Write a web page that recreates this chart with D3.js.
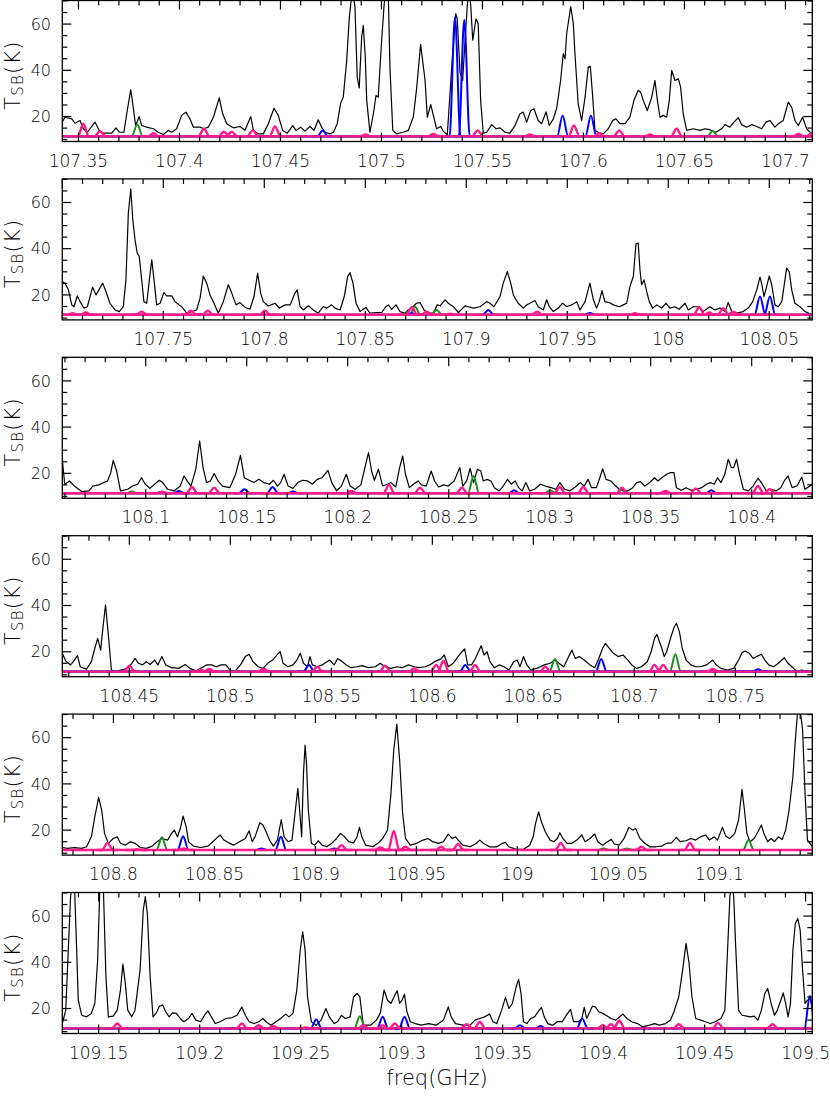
<!DOCTYPE html>
<html><head><meta charset="utf-8">
<script src="https://cdn.jsdelivr.net/npm/d3@7"></script>
<style>body{margin:0;background:#fff}svg{display:block}</style>
</head><body>
<svg id="c" width="830" height="1099"></svg>
<script>
// ---------------- DATA ----------------
const panelStart = [107.342, 107.700, 108.0587, 108.4168, 108.7747, 109.132];
const panelSpan = 0.3713;
const yDomain = [9.2, 70.2];
const yTickLabels = [20, 40, 60];
const xTickLabels = [
  [107.35,107.4,107.45,107.5,107.55,107.6,107.65,107.7],
  [107.75,107.8,107.85,107.9,107.95,108,108.05],
  [108.1,108.15,108.2,108.25,108.3,108.35,108.4],
  [108.45,108.5,108.55,108.6,108.65,108.7,108.75],
  [108.8,108.85,108.9,108.95,109,109.05,109.1],
  [109.15,109.2,109.25,109.3,109.35,109.4,109.45,109.5]
];
const modelBaseline = 11.4;

const spec1 = [[107.342,17.6],[107.3433,19.7],[107.3467,19.0],[107.3483,17.1],[107.3508,18.3],[107.3524,14.7],[107.3544,13.2],[107.3582,17.6],[107.3603,14.0],[107.3623,12.8],[107.3665,12.8],[107.3686,15.1],[107.3702,13.2],[107.3725,13.2],[107.3739,21.2],[107.3759,31.6],[107.3771,24.0],[107.3783,16.1],[107.3801,20.0],[107.3813,16.1],[107.3838,15.4],[107.3871,14.7],[107.3895,13.2],[107.392,12.2],[107.3945,14.0],[107.3962,13.2],[107.3986,14.7],[107.4011,20.5],[107.4032,21.9],[107.4052,19.0],[107.4069,15.4],[107.4102,15.4],[107.4121,14.7],[107.4143,15.4],[107.4168,19.7],[107.4197,28.1],[107.4214,21.2],[107.4234,16.9],[107.4267,15.1],[107.43,15.7],[107.4324,14.0],[107.4353,20.0],[107.4366,14.0],[107.439,12.5],[107.4415,12.5],[107.444,16.9],[107.4468,23.6],[107.4489,20.5],[107.4511,14.0],[107.4534,12.8],[107.4561,16.1],[107.4577,14.0],[107.46,15.4],[107.4621,13.7],[107.4646,15.7],[107.4666,14.0],[107.4687,18.6],[107.4704,15.4],[107.472,13.2],[107.4745,12.5],[107.4762,13.2],[107.4781,16.9],[107.4798,25.8],[107.4811,28.4],[107.4828,44.3],[107.4841,63.0],[107.4856,75],[107.4869,67.3],[107.488,37.0],[107.489,32.4],[107.4902,54.4],[107.491,59.4],[107.492,45.7],[107.4927,27.0],[107.4943,13.2],[107.496,21.2],[107.4973,29.1],[107.4984,28.4],[107.5001,53.0],[107.5013,68],[107.5022,76],[107.5034,72],[107.5042,41.4],[107.5056,14.0],[107.5075,12.5],[107.5108,13.2],[107.5133,14.0],[107.5158,19.9],[107.5174,32.0],[107.5194,51.2],[107.5216,35.6],[107.5227,19.7],[107.5244,25.2],[107.5257,20.5],[107.5273,14.7],[107.5293,15.7],[107.5306,13.7],[107.5326,12.1],[107.5348,41.4],[107.5368,64.5],[107.5375,62.3],[107.5389,39.2],[107.5402,35.6],[107.5414,53.0],[107.5425,68],[107.5433,75],[107.5442,68],[107.5452,53.0],[107.5468,62.3],[107.5479,60.1],[107.5491,27.0],[107.5504,12.8],[107.5521,13.2],[107.5546,16.5],[107.5567,14.7],[107.5587,15.1],[107.5612,13.2],[107.5636,12.8],[107.5661,16.1],[107.5686,21.2],[107.5702,21.9],[107.5719,17.6],[107.5739,22.6],[107.5755,23.4],[107.5776,18.3],[107.5793,16.9],[107.5815,22.0],[107.5831,16.1],[107.5851,19.0],[107.5868,23.8],[107.5887,35.6],[107.59,47.2],[107.5909,45.0],[107.5917,55.8],[107.5937,67.6],[107.595,60.1],[107.5958,47.2],[107.5974,25.5],[107.5991,18.3],[107.6008,28.4],[107.6024,41.4],[107.6034,41.7],[107.6046,28.4],[107.6057,14.0],[107.6073,13.2],[107.6098,12.5],[107.6123,14.7],[107.6145,18.3],[107.6161,19.0],[107.6181,16.9],[107.6206,16.9],[107.623,19.7],[107.625,27.0],[107.6271,31.3],[107.6283,30.6],[107.6296,27.0],[107.6316,22.6],[107.6338,28.4],[107.6354,35.6],[107.6366,27.0],[107.6379,19.7],[107.6395,20.5],[107.6412,19.7],[107.6425,27.0],[107.6437,40.0],[107.6453,35.6],[107.647,36.3],[107.6481,32.7],[107.6494,21.2],[107.6511,14.0],[107.6544,14.7],[107.6577,14.0],[107.6602,14.7],[107.6626,14.3],[107.6656,13.2],[107.6684,14.7],[107.6701,16.5],[107.6725,15.4],[107.6745,17.6],[107.6767,19.5],[107.6783,16.5],[107.6808,15.4],[107.6833,16.5],[107.6858,15.7],[107.6882,14.7],[107.6904,17.6],[107.6923,18.3],[107.6948,15.4],[107.6965,16.9],[107.6989,18.3],[107.7014,26.2],[107.7031,24.0],[107.7047,18.3],[107.7064,16.1],[107.7085,19.7],[107.7105,14.7],[107.713,12.5]];

const spec2 = [[107.7,25.8],[107.7013,25.1],[107.703,22.2],[107.7047,15.7],[107.7058,14.9],[107.7074,19.6],[107.7088,17.1],[107.7107,14.3],[107.7124,14.9],[107.715,23.4],[107.7167,20.0],[107.72,25.1],[107.7216,21.5],[107.7236,16.4],[107.7261,13.5],[107.7282,12.8],[107.7302,14.9],[107.7315,26.5],[107.7327,55.4],[107.7339,65.9],[107.7349,52.5],[107.736,43.8],[107.7371,38.1],[107.7381,36.6],[107.7393,26.5],[107.7404,17.1],[107.7418,16.4],[107.7431,26.5],[107.7443,35.2],[107.7454,26.5],[107.7467,15.7],[107.7484,16.4],[107.7503,21.0],[107.7517,19.6],[107.7542,19.6],[107.7558,17.1],[107.7578,15.7],[107.7591,14.9],[107.7616,12.1],[107.7641,12.8],[107.7665,13.5],[107.7682,18.6],[107.7698,28.2],[107.7715,25.1],[107.7731,20.0],[107.7751,16.4],[107.7772,12.1],[107.7797,17.1],[107.7822,24.4],[107.7839,20.8],[107.786,15.7],[107.788,16.7],[107.7904,14.7],[107.7929,13.8],[107.7949,19.3],[107.7967,29.4],[107.7982,20.8],[107.7995,17.1],[107.802,15.2],[107.8053,16.4],[107.8074,14.3],[107.8103,15.7],[107.8128,15.7],[107.8152,20.8],[107.8163,22.2],[107.8177,15.0],[107.8193,13.5],[107.8218,15.3],[107.8243,13.5],[107.8267,12.1],[107.8292,15.0],[107.8309,14.3],[107.8334,15.7],[107.835,14.3],[107.8375,13.5],[107.8396,19.3],[107.8413,28.0],[107.8424,29.7],[107.8439,25.1],[107.8454,16.4],[107.8474,12.8],[107.8503,14.6],[107.8523,12.1],[107.8556,12.4],[107.8581,12.4],[107.8602,14.9],[107.8614,15.7],[107.8631,13.8],[107.8652,15.7],[107.8672,12.8],[107.8697,12.1],[107.8713,13.5],[107.8735,14.9],[107.8754,16.4],[107.8771,16.7],[107.8791,13.5],[107.8812,12.1],[107.8837,12.1],[107.8856,15.7],[107.887,15.3],[107.8895,17.9],[107.8911,16.4],[107.8936,14.9],[107.8961,12.4],[107.8994,15.3],[107.901,14.9],[107.9035,14.3],[107.9068,14.9],[107.9101,17.1],[107.9117,16.4],[107.9137,14.9],[107.9167,19.3],[107.9183,25.1],[107.9203,30.1],[107.922,25.1],[107.9233,20.0],[107.9257,16.4],[107.9282,14.3],[107.9299,15.7],[107.9315,16.4],[107.934,17.6],[107.9356,14.9],[107.9381,13.5],[107.9398,17.9],[107.9411,14.9],[107.9431,12.8],[107.9455,14.3],[107.9477,16.4],[107.9497,15.0],[107.9523,15.7],[107.9547,17.1],[107.9563,13.5],[107.9588,17.1],[107.9612,25.1],[107.9629,18.0],[107.9645,14.3],[107.9658,17.1],[107.9672,21.9],[107.9686,17.1],[107.9708,16.7],[107.9728,15.7],[107.9757,14.9],[107.9777,15.7],[107.9794,16.4],[107.981,23.6],[107.9827,28.0],[107.984,42.1],[107.9851,42.4],[107.986,30.7],[107.9868,24.4],[107.988,26.5],[107.9893,21.5],[107.9906,17.1],[107.9923,14.3],[107.9943,15.7],[107.9967,14.3],[107.9989,16.4],[108.0008,14.3],[108.0033,14.9],[108.0054,13.8],[108.0083,16.4],[108.0099,13.5],[108.0124,14.9],[108.0153,14.9],[108.0173,12.8],[108.0206,14.9],[108.0231,13.5],[108.0256,14.3],[108.0281,12.8],[108.0297,16.7],[108.0314,12.8],[108.0339,12.1],[108.0371,12.8],[108.0396,14.3],[108.0418,17.1],[108.0438,22.2],[108.0454,27.7],[108.0462,25.0],[108.0474,19.3],[108.0487,23.6],[108.05,28.2],[108.0512,24.4],[108.0528,15.7],[108.0545,14.9],[108.0562,17.1],[108.0586,31.6],[108.0599,30.0],[108.0611,22.2],[108.0627,16.4],[108.0652,14.9],[108.0677,12.8],[108.0701,11.8],[108.0713,11.5]];

const spec3 = [[108.0587,26.1],[108.0599,15.3],[108.0623,16.7],[108.0647,14.5],[108.0683,12.1],[108.0719,12.4],[108.0738,14.5],[108.0767,15.0],[108.0791,16.0],[108.0811,16.7],[108.0827,20.3],[108.0839,25.6],[108.0856,21.0],[108.0875,12.4],[108.0911,13.1],[108.0935,14.5],[108.096,15.3],[108.0979,18.1],[108.0996,15.5],[108.102,13.5],[108.1044,15.3],[108.1068,17.0],[108.1084,16.0],[108.1109,13.1],[108.114,12.4],[108.1171,14.5],[108.119,18.9],[108.1205,16.7],[108.1224,14.5],[108.1248,21.8],[108.1267,34.0],[108.1284,22.5],[108.1301,16.0],[108.132,16.7],[108.1339,19.9],[108.1356,17.0],[108.138,14.5],[108.1416,13.8],[108.1445,19.6],[108.1469,27.8],[108.1488,18.1],[108.1512,17.0],[108.1536,16.0],[108.156,17.4],[108.1584,16.0],[108.1613,15.3],[108.1632,17.0],[108.1652,14.5],[108.1668,16.0],[108.1685,19.6],[108.1705,14.5],[108.1729,13.5],[108.1753,16.0],[108.1777,17.0],[108.1801,16.7],[108.1825,15.3],[108.1849,17.4],[108.1873,18.1],[108.1902,21.3],[108.1921,16.0],[108.1945,12.4],[108.1969,14.5],[108.1993,19.6],[108.2012,14.5],[108.2036,13.1],[108.2065,15.0],[108.2089,23.9],[108.2103,29.0],[108.2118,21.0],[108.2132,17.0],[108.2152,21.8],[108.2173,14.5],[108.2197,15.3],[108.2214,16.0],[108.2238,14.1],[108.2257,22.5],[108.2272,27.5],[108.2286,19.6],[108.2305,13.8],[108.2325,15.3],[108.2349,16.7],[108.2365,15.0],[108.2389,14.5],[108.2413,21.0],[108.243,16.7],[108.245,14.1],[108.2474,15.0],[108.2498,14.5],[108.2527,16.7],[108.2555,22.5],[108.257,14.5],[108.2589,16.7],[108.2606,22.2],[108.2623,16.0],[108.2642,21.8],[108.2659,21.0],[108.2671,16.7],[108.269,17.4],[108.2709,16.7],[108.2726,13.8],[108.275,12.4],[108.2767,14.1],[108.2791,17.4],[108.281,15.3],[108.2829,16.7],[108.2846,13.8],[108.2863,12.4],[108.2882,16.0],[108.2901,12.4],[108.2925,13.1],[108.2954,15.3],[108.2978,14.5],[108.3007,13.8],[108.3031,13.1],[108.305,16.0],[108.3074,13.1],[108.3098,12.4],[108.3127,14.1],[108.3151,16.0],[108.3171,14.5],[108.319,17.4],[108.3207,13.8],[108.3231,13.8],[108.3248,18.1],[108.3262,22.0],[108.3279,17.4],[108.3303,16.7],[108.3327,14.5],[108.3344,13.1],[108.3363,12.4],[108.3387,12.4],[108.3411,13.8],[108.343,16.0],[108.3449,16.4],[108.3471,14.5],[108.3495,16.0],[108.3519,18.1],[108.3536,16.7],[108.3555,18.1],[108.3579,19.6],[108.3598,20.3],[108.3615,20.3],[108.3627,13.8],[108.3651,12.7],[108.3675,13.8],[108.3699,12.7],[108.3728,13.1],[108.3752,13.8],[108.3776,15.3],[108.3795,16.0],[108.3815,15.3],[108.3831,18.1],[108.3848,16.0],[108.3867,19.6],[108.3884,26.1],[108.3899,22.5],[108.3911,22.5],[108.3925,26.1],[108.394,19.6],[108.3959,13.1],[108.3983,12.4],[108.4007,14.5],[108.4031,17.9],[108.4048,16.0],[108.4072,12.4],[108.4096,13.1],[108.412,12.4],[108.4144,13.8],[108.4161,16.7],[108.418,18.9],[108.42,13.8],[108.4224,14.5],[108.4248,18.4],[108.4264,13.1],[108.4288,14.5],[108.43,15.3]];

const spec4 = [[108.4168,19.3],[108.4185,16.0],[108.4209,14.3],[108.4228,16.4],[108.4243,18.3],[108.4257,13.5],[108.4288,12.5],[108.4312,15.7],[108.4329,21.5],[108.4343,25.8],[108.4358,20.7],[108.4367,28.7],[108.4382,40.2],[108.4396,27.2],[108.4411,12.1],[108.4432,11.4],[108.4456,12.1],[108.4492,12.8],[108.4512,15.0],[108.4528,17.1],[108.4545,15.0],[108.4565,14.3],[108.4584,15.7],[108.4603,14.5],[108.4625,16.4],[108.4641,14.3],[108.4661,17.9],[108.468,14.3],[108.4709,13.1],[108.4745,12.8],[108.4776,14.5],[108.48,12.8],[108.4829,11.7],[108.4858,13.1],[108.4882,14.3],[108.4906,14.3],[108.493,13.5],[108.4954,14.3],[108.4978,14.3],[108.4997,12.1],[108.5021,11.4],[108.505,14.3],[108.5074,17.9],[108.5093,18.9],[108.5112,15.7],[108.5137,13.5],[108.5161,12.8],[108.5185,15.0],[108.5209,16.4],[108.5233,18.9],[108.5247,20.0],[108.5261,15.0],[108.5286,13.5],[108.531,14.3],[108.5329,16.4],[108.5346,19.3],[108.5362,15.0],[108.5382,13.5],[108.5394,17.9],[108.5406,14.3],[108.543,13.5],[108.5454,14.3],[108.5478,15.7],[108.5492,16.4],[108.5514,14.3],[108.5531,17.1],[108.555,16.0],[108.5574,14.3],[108.5598,13.1],[108.5627,13.5],[108.5651,14.0],[108.5682,13.1],[108.5718,13.5],[108.5742,15.0],[108.5766,13.5],[108.5795,12.8],[108.5826,13.5],[108.585,13.1],[108.5882,14.3],[108.591,13.5],[108.5934,13.1],[108.5963,13.5],[108.5987,14.3],[108.6011,15.7],[108.6043,16.9],[108.6059,18.6],[108.6079,13.5],[108.6103,15.0],[108.6127,17.9],[108.6146,20.0],[108.616,21.2],[108.6175,14.3],[108.6194,14.3],[108.6213,17.1],[108.6228,20.0],[108.6242,22.6],[108.6256,18.6],[108.6271,20.0],[108.6285,15.7],[108.6307,13.1],[108.6331,14.3],[108.6355,13.5],[108.6379,12.1],[108.6403,15.7],[108.642,16.4],[108.6434,13.5],[108.6451,17.9],[108.6468,14.3],[108.6487,12.1],[108.6516,12.8],[108.6535,13.5],[108.6554,14.3],[108.6583,15.0],[108.6607,16.4],[108.6627,15.0],[108.6651,13.5],[108.6675,17.9],[108.6691,20.7],[108.6708,17.1],[108.6727,17.9],[108.6752,16.4],[108.678,14.3],[108.6804,13.1],[108.6824,17.1],[108.6843,21.5],[108.6857,23.6],[108.6876,21.5],[108.6896,19.3],[108.692,17.9],[108.6944,18.6],[108.6968,16.4],[108.6987,14.3],[108.7011,12.8],[108.7035,13.5],[108.7064,15.7],[108.7083,20.0],[108.71,25.8],[108.7112,27.5],[108.7124,24.4],[108.7136,21.5],[108.7148,17.9],[108.716,20.0],[108.7179,25.8],[108.7196,30.4],[108.7208,32.3],[108.7223,28.7],[108.7237,21.5],[108.7256,16.4],[108.728,14.3],[108.7304,13.5],[108.7328,13.5],[108.7357,14.3],[108.7388,16.4],[108.7405,14.3],[108.7429,12.8],[108.7461,12.1],[108.7492,12.8],[108.7516,16.4],[108.7533,19.6],[108.7549,20.3],[108.7569,19.3],[108.7588,17.1],[108.7605,17.9],[108.7629,18.9],[108.7646,16.4],[108.7665,14.3],[108.7689,13.5],[108.7713,15.0],[108.7742,17.4],[108.7761,15.0],[108.7785,13.1],[108.7804,11.4],[108.7828,12.1],[108.7857,11.4],[108.7881,11.1]];

const spec5 = [[108.7747,12.5],[108.7771,12.1],[108.7807,12.4],[108.7843,12.1],[108.7867,12.8],[108.7891,17.1],[108.7908,25.8],[108.7927,34.2],[108.7942,28.7],[108.7956,18.6],[108.7975,14.3],[108.7999,16.4],[108.8019,17.1],[108.8035,14.3],[108.8059,13.5],[108.8083,15.0],[108.8107,14.3],[108.8132,12.5],[108.8163,12.1],[108.8192,13.1],[108.8216,15.0],[108.824,16.4],[108.8269,15.7],[108.8288,18.6],[108.8302,20.0],[108.8317,17.1],[108.8331,20.7],[108.8345,26.1],[108.836,21.5],[108.8372,15.0],[108.8396,13.1],[108.8432,12.5],[108.8468,13.1],[108.8492,15.0],[108.8509,16.4],[108.8528,17.9],[108.8547,15.7],[108.8571,14.5],[108.8595,13.5],[108.8624,15.0],[108.8653,16.4],[108.8672,19.7],[108.8687,15.0],[108.8701,17.1],[108.8725,23.2],[108.874,22.2],[108.8756,19.3],[108.8773,15.7],[108.8792,13.1],[108.8812,15.7],[108.8831,24.6],[108.8845,17.1],[108.8865,15.0],[108.8884,15.7],[108.8901,28.7],[108.8913,38.1],[108.8922,28.7],[108.8932,17.1],[108.8941,44.6],[108.8949,56.8],[108.8956,48.9],[108.8965,28.7],[108.898,14.3],[108.8997,13.5],[108.9014,15.4],[108.9033,13.5],[108.9057,12.8],[108.9081,14.3],[108.9105,16.4],[108.9124,18.6],[108.9141,17.4],[108.9165,15.0],[108.9189,14.5],[108.9206,17.1],[108.9218,21.2],[108.923,17.1],[108.9249,13.5],[108.9285,12.8],[108.9309,14.3],[108.9333,16.4],[108.9357,20.0],[108.9374,35.9],[108.9388,54.7],[108.9403,65.9],[108.9417,50.3],[108.9432,27.2],[108.9446,16.4],[108.947,13.5],[108.9501,14.3],[108.9533,15.7],[108.9557,16.4],[108.9581,15.0],[108.961,14.3],[108.9634,15.0],[108.9658,18.3],[108.9677,16.4],[108.9694,17.1],[108.971,15.4],[108.973,13.5],[108.9766,12.8],[108.9797,14.3],[108.9814,15.7],[108.9831,14.3],[108.9862,12.8],[108.9898,12.8],[108.9927,14.3],[108.9941,14.7],[108.9958,12.8],[108.9994,11.7],[109.003,11.7],[109.0061,13.5],[109.0078,17.1],[109.009,22.9],[109.0105,27.9],[109.0119,23.6],[109.0138,19.3],[109.0162,15.7],[109.0181,15.0],[109.0198,16.4],[109.021,18.9],[109.0225,16.4],[109.0246,14.3],[109.027,14.3],[109.0294,15.7],[109.0319,17.9],[109.0335,15.0],[109.0359,16.4],[109.0383,18.3],[109.0398,15.0],[109.0422,13.5],[109.0446,15.0],[109.0465,16.0],[109.048,14.0],[109.0504,13.5],[109.0528,16.4],[109.0552,21.2],[109.0571,20.0],[109.0585,20.7],[109.0607,16.4],[109.0631,14.3],[109.0655,12.8],[109.0686,12.8],[109.0715,13.1],[109.0739,14.3],[109.0763,14.5],[109.0787,16.9],[109.0806,15.0],[109.0835,15.4],[109.0859,16.4],[109.0883,15.7],[109.0907,17.1],[109.0931,17.9],[109.0951,15.7],[109.0975,17.1],[109.0991,15.7],[109.1015,21.2],[109.1032,17.4],[109.1052,16.4],[109.1076,18.6],[109.1095,24.4],[109.1112,37.6],[109.1124,28.7],[109.1136,18.6],[109.1152,15.0],[109.1172,16.4],[109.1191,19.3],[109.1208,22.2],[109.122,18.6],[109.1239,15.0],[109.1256,16.4],[109.1273,15.0],[109.1292,17.1],[109.1311,16.0],[109.1328,20.0],[109.1345,28.7],[109.1364,43.1],[109.1376,59.0],[109.1388,72],[109.14,72],[109.1412,63.3],[109.1424,35.9],[109.1436,15.7],[109.1455,13.5],[109.146,12.8]];

const spec6 = [[109.132,13.5],[109.1337,19.3],[109.1351,48.2],[109.1361,68.4],[109.1368,74],[109.138,74],[109.139,48.2],[109.1399,23.6],[109.1416,17.1],[109.144,16.4],[109.1464,17.9],[109.1481,22.2],[109.1495,41.0],[109.1505,70],[109.1515,75],[109.1524,70],[109.1536,33.7],[109.1548,16.4],[109.1572,16.7],[109.1592,19.3],[109.1608,28.0],[109.162,39.2],[109.1632,30.9],[109.1644,19.3],[109.1664,16.4],[109.168,19.3],[109.1705,36.6],[109.1721,62.6],[109.1731,68.4],[109.1741,61.1],[109.1755,33.7],[109.1769,16.4],[109.1784,17.9],[109.1801,21.0],[109.1817,21.5],[109.1832,18.6],[109.1849,16.4],[109.1866,18.1],[109.1885,17.9],[109.1904,15.7],[109.1921,14.3],[109.1945,15.7],[109.1962,17.9],[109.1981,15.0],[109.2005,14.3],[109.2024,17.1],[109.2041,19.0],[109.2058,16.4],[109.2077,13.5],[109.2101,14.3],[109.213,15.7],[109.2161,16.1],[109.2185,17.1],[109.2209,20.7],[109.2226,17.1],[109.2245,14.3],[109.2269,13.5],[109.2293,14.3],[109.2313,15.7],[109.2329,14.3],[109.2353,12.8],[109.2377,14.3],[109.2401,15.7],[109.2426,17.6],[109.2442,16.4],[109.2462,17.9],[109.2481,28.0],[109.2498,45.3],[109.251,53.2],[109.2522,45.3],[109.2534,25.1],[109.2553,14.3],[109.2577,12.8],[109.2601,15.0],[109.2625,20.0],[109.2642,16.4],[109.2666,13.5],[109.2683,14.3],[109.2702,17.1],[109.2721,15.7],[109.2745,16.4],[109.2762,25.1],[109.2779,26.5],[109.2793,25.1],[109.281,12.8],[109.2846,12.8],[109.2875,15.0],[109.2894,17.9],[109.2913,28.0],[109.293,23.6],[109.2947,22.2],[109.2966,25.8],[109.2978,27.7],[109.299,22.2],[109.3002,23.6],[109.3014,26.2],[109.3026,18.6],[109.3043,14.3],[109.3067,13.5],[109.3098,12.8],[109.3134,13.5],[109.3171,12.8],[109.3207,15.0],[109.3231,20.7],[109.3245,16.4],[109.3267,13.5],[109.3303,12.8],[109.3339,12.8],[109.3363,15.0],[109.3387,15.7],[109.3411,16.4],[109.3435,17.6],[109.3452,14.3],[109.3471,13.5],[109.3495,19.3],[109.3514,24.8],[109.3531,20.0],[109.3548,22.2],[109.3567,29.4],[109.3579,32.6],[109.3591,26.5],[109.3603,14.3],[109.362,13.5],[109.3639,15.7],[109.3658,16.4],[109.3675,18.6],[109.3692,20.5],[109.3706,16.4],[109.3723,13.5],[109.3747,12.8],[109.3771,14.3],[109.3795,14.3],[109.3819,17.6],[109.3836,19.6],[109.3851,14.3],[109.3875,14.3],[109.3892,15.7],[109.3904,20.5],[109.3916,15.7],[109.3928,17.9],[109.3944,21.0],[109.3959,20.7],[109.3976,18.6],[109.3995,17.9],[109.4012,17.1],[109.4036,15.7],[109.406,15.0],[109.4096,17.6],[109.4115,15.7],[109.4139,14.3],[109.4168,13.5],[109.4192,12.1],[109.4228,12.8],[109.4252,13.5],[109.4276,12.8],[109.4307,13.5],[109.4331,15.0],[109.4348,18.6],[109.4372,25.1],[109.4391,36.6],[109.4408,48.2],[109.4423,39.5],[109.4437,25.1],[109.4456,15.7],[109.448,15.0],[109.4504,14.3],[109.4528,13.5],[109.4552,14.3],[109.4581,15.7],[109.46,19.3],[109.4615,48.2],[109.4625,68.4],[109.4634,74],[109.4644,68.4],[109.4653,48.2],[109.4668,19.3],[109.4685,17.1],[109.4709,16.7],[109.4725,16.4],[109.4745,16.7],[109.4764,15.0],[109.4781,19.3],[109.4798,26.5],[109.4812,28.7],[109.4829,22.2],[109.4846,17.1],[109.486,19.3],[109.4877,23.6],[109.4889,26.8],[109.4901,22.2],[109.4913,16.4],[109.4925,22.2],[109.4937,45.3],[109.4949,56.8],[109.4961,59.0],[109.4973,53.9],[109.4985,36.6],[109.4997,22.2],[109.5009,23.6],[109.5021,24.3],[109.5033,20.7]];

// model line peaks: [centre frequency (GHz), peak T (K)]
const blue1 = [[107.4709,14.0],[107.5364,63.0],[107.541,61.8],[107.5897,20.5],[107.6037,20.5]];
const green1 = [[107.3791,16.7],[107.664,13.7]];
const magenta1 = [[107.3524,16.9],[107.3607,13.7],[107.3871,12.8],[107.4121,14.7],[107.422,13.4],[107.4259,13.4],[107.4363,14.0],[107.4473,15.7],[107.4922,12.2],[107.5257,12.5],[107.5476,14.0],[107.5735,12.2],[107.5953,16.1],[107.6078,12.8],[107.6177,14.0],[107.6329,12.2],[107.6461,14.7],[107.7064,12.5],[107.713,12.8]];
const blue2 = [[107.873,12.1],[107.9109,13.5],[107.9612,12.2],[108.0454,19.3],[108.0503,19.3]];
const green2 = [[107.8746,15.0],[107.8853,13.5]];
const magenta2 = [[107.7051,12.1],[107.7117,12.4],[107.7393,12.8],[107.7636,13.2],[107.772,13.2],[107.8003,13.2],[107.873,14.7],[107.8804,12.8],[107.8919,11.9],[107.9351,12.8],[107.9835,12.1],[108.0153,14.7],[108.0203,12.4],[108.0272,14.3],[108.0322,12.8]];
const blue3 = [[108.1164,12.4],[108.1488,13.1],[108.1628,14.1],[108.1729,12.1],[108.2824,12.7],[108.38,12.7]];
const green3 = [[108.0931,12.1],[108.2623,18.9],[108.3002,12.7],[108.3358,13.1]];
const magenta3 = [[108.108,12.1],[108.1229,14.1],[108.1339,13.8],[108.2017,12.4],[108.2204,15.0],[108.2358,13.8],[108.2565,13.8],[108.305,14.1],[108.3166,14.1],[108.3358,13.8],[108.3574,12.4],[108.3723,13.5],[108.4031,14.5],[108.4089,13.1]];
const blue4 = [[108.5389,14.3],[108.6163,14.3],[108.6836,16.9],[108.754,11.6],[108.7612,12.4]];
const green4 = [[108.6607,16.9],[108.7203,18.9]];
const magenta4 = [[108.45,14.0],[108.4853,12.1],[108.4896,12.5],[108.5165,12.5],[108.543,13.5],[108.5766,14.0],[108.591,12.8],[108.6019,14.3],[108.6055,16.1],[108.6211,14.3],[108.6559,13.5],[108.71,14.3],[108.7143,14.3],[108.7388,12.5]];
const blue5 = [[108.8345,17.4],[108.8733,12.1],[108.8829,17.1],[108.9093,12.1]];
const green5 = [[108.824,16.9],[109.0427,12.1],[109.0542,12.1],[109.1144,15.7]];
const magenta5 = [[108.7971,14.5],[108.8115,11.7],[108.8348,12.1],[108.9129,13.5],[108.9321,12.5],[108.9388,19.7],[108.9446,12.8],[108.9622,12.8],[108.9706,14.0],[109.0215,14.5],[109.0614,12.8],[109.0854,14.5]];
const blue6 = [[109.2577,15.3],[109.2906,16.4],[109.3014,16.4],[109.3586,12.8],[109.3687,12.4],[109.3894,15.7],[109.5021,25.4]];
const green6 = [[109.2793,16.7]];
const magenta6 = [[109.1592,13.5],[109.2209,13.5],[109.2293,12.8],[109.2365,12.4],[109.2522,11.8],[109.281,12.8],[109.2906,12.8],[109.2966,13.5],[109.3322,13.2],[109.3387,14.3],[109.3995,12.8],[109.4036,13.2],[109.4077,14.7],[109.4372,13.2],[109.4566,13.8],[109.4836,13.2]];

// ---------------- DRAWING ----------------
const spectra = [spec1, spec2, spec3, spec4, spec5, spec6];
const models = [
  {blue: blue1, green: green1, magenta: magenta1},
  {blue: blue2, green: green2, magenta: magenta2},
  {blue: blue3, green: green3, magenta: magenta3},
  {blue: blue4, green: green4, magenta: magenta4},
  {blue: blue5, green: green5, magenta: magenta5},
  {blue: blue6, green: green6, magenta: magenta6}
];
const colors = {green: "#1f8c1f", blue: "#0000ff", magenta: "#ff1a8c"};
const widths = {green: 2, blue: 2, magenta: 2.4};
const halfW = 0.0027; // GHz, drawn half width of model peaks

const svg = d3.select("#c");
svg.append("rect").attr("width", 830).attr("height", 1099).attr("fill", "#fff");

const L = 62.3, R = 812.3, top0 = 0.5, step = 178.4, PH = 141;
const FONT = "'DejaVu Sans', 'Liberation Sans', sans-serif";
const FW = 200;

panelStart.forEach((f0, i) => {
  const top = top0 + i * step, bot = top + PH;
  const f1 = f0 + panelSpan;
  const x = d3.scaleLinear().domain([f0, f1]).range([L, R]);
  const y = d3.scaleLinear().domain(yDomain).range([bot, top]);
  const g = svg.append("g");
  const cid = "clip" + i;
  svg.append("clipPath").attr("id", cid).append("rect")
    .attr("x", L).attr("y", top).attr("width", R - L).attr("height", PH);
  const pg = g.append("g").attr("clip-path", `url(#${cid})`);

  const line = d3.line().x(d => x(d[0])).y(d => y(d[1]));
  pg.append("path").datum(spectra[i]).attr("d", line)
    .attr("fill", "none").attr("stroke", "#000").attr("stroke-width", 1.2)
    .attr("stroke-linejoin", "round");

  const smooth = d3.line().x(d => x(d[0])).y(d => y(d[1])).curve(d3.curveMonotoneX);
  ["green", "blue", "magenta"].forEach(k => {
    const peaks = models[i][k];
    const col = colors[k], sw = widths[k];
    pg.append("path").datum([[f0, modelBaseline], [f1, modelBaseline]]).attr("d", line)
      .attr("fill", "none").attr("stroke", col).attr("stroke-width", sw);
    peaks.forEach(p => {
      const pts = [[p[0] - 2 * halfW, modelBaseline], [p[0] - halfW, modelBaseline], p,
                   [p[0] + halfW, modelBaseline], [p[0] + 2 * halfW, modelBaseline]];
      pg.append("path").datum(pts).attr("d", smooth)
        .attr("fill", "none").attr("stroke", col).attr("stroke-width", sw)
        .attr("stroke-linejoin", "round");
    });
  });

  // frame
  g.append("rect").attr("x", L).attr("y", top).attr("width", R - L).attr("height", PH)
    .attr("fill", "none").attr("stroke", "#000").attr("stroke-width", 1.3);

  // x ticks
  const tk = g.append("g").attr("stroke", "#000").attr("stroke-width", 1.2);
  const i0 = Math.ceil(f0 * 100 - 1e-6), i1 = Math.floor(f1 * 100 + 1e-6);
  for (let j = i0; j <= i1; j++) {
    const xx = x(j / 100);
    const len = (j % 5 === 0) ? 9 : 5;
    tk.append("line").attr("x1", xx).attr("x2", xx).attr("y1", bot).attr("y2", bot - len);
    tk.append("line").attr("x1", xx).attr("x2", xx).attr("y1", top).attr("y2", top + len);
  }
  // y ticks
  for (let v = 10; v <= 70; v += 5) {
    const yy = y(v);
    const len = (v % 20 === 0) ? 9 : 5;
    tk.append("line").attr("x1", L).attr("x2", L + len).attr("y1", yy).attr("y2", yy);
    tk.append("line").attr("x1", R).attr("x2", R - len).attr("y1", yy).attr("y2", yy);
  }
  // x labels
  const fmt = d3.format(".5~g");
  g.selectAll(null).data(xTickLabels[i]).enter().append("text")
    .attr("x", d => x(d)).attr("y", bot + 25)
    .attr("text-anchor", "middle").attr("font-family", FONT).attr("font-size", 17)
    .attr("font-weight", FW).attr("fill", "#000").text(d => fmt(d));
  // y labels
  g.selectAll(null).data(yTickLabels).enter().append("text")
    .attr("x", 51).attr("y", d => y(d)).attr("dy", "0.36em")
    .attr("text-anchor", "end").attr("font-family", FONT).attr("font-size", 16)
    .attr("font-weight", FW).attr("fill", "#000").text(d => d);
  // y title
  const cy = top + PH / 2 + 4;
  const t = g.append("text").attr("transform", `translate(19.5,${cy}) rotate(-90)`)
    .attr("text-anchor", "middle").attr("font-family", FONT).attr("font-size", 21)
    .attr("font-weight", FW).attr("letter-spacing", 1.2).attr("fill", "#000");
  t.append("tspan").text("T");
  t.append("tspan").attr("font-size", 15).attr("dy", 3.5).text("SB");
  t.append("tspan").attr("dy", -3.5).text("(K)");
});

svg.append("text").attr("x", 437).attr("y", 1085).attr("text-anchor", "middle")
  .attr("font-family", FONT).attr("font-size", 21).attr("font-weight", FW)
  .attr("fill", "#000").text("freq(GHz)");
</script>
</body></html>
